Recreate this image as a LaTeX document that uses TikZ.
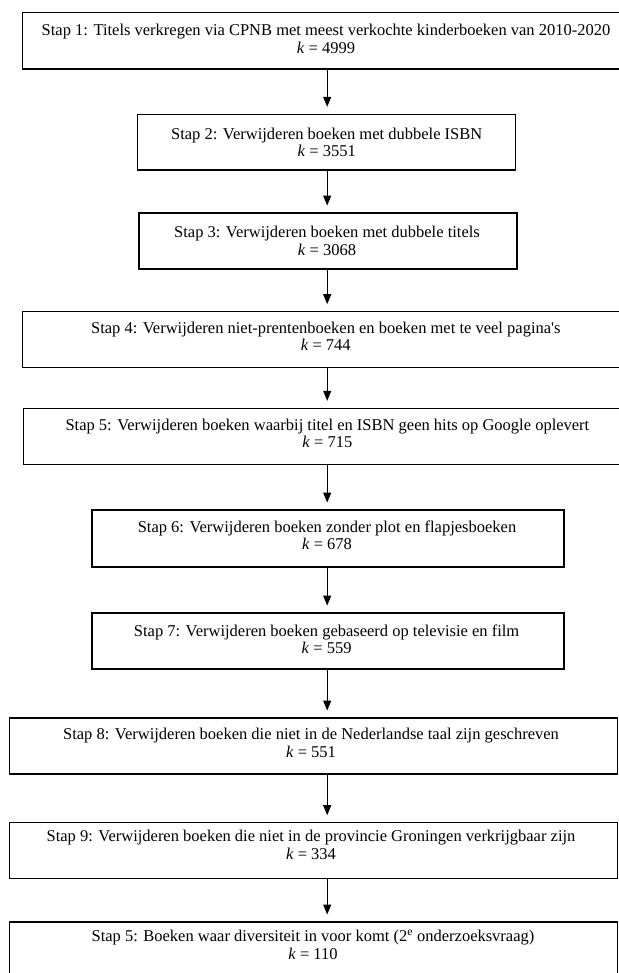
\documentclass[tikz,border=0pt]{standalone}
\usepackage{fontspec}
\setmainfont{Liberation Serif}
\usetikzlibrary{arrows.meta}

\tikzset{
  stepbox/.style={draw=black, line width=1.15bp, rectangle, inner sep=0pt, outer sep=0pt},
  steptext/.style={inner sep=0pt, anchor=base, font=\fontsize{16.5bp}{18bp}\selectfont},
  flow/.style={line width=1bp, -{Triangle[length=10bp,width=8bp]}, shorten >=7.5bp}
}

\begin{document}
\begin{tikzpicture}[x=1bp, y=-1bp]
  \useasboundingbox (0,0) rectangle (619,973);
  \clip (0,0) rectangle (619,973);
  \fill[white] (0,0) rectangle (619,973);

  % vertical line that all connectors follow
  \coordinate (ax) at (327.2,0);

  % step boxes
  \node[stepbox, minimum width=617.4bp, minimum height=56.3bp] (b1)  at (331.3, 40.85) {};
  \node[stepbox, minimum width=378.4bp, minimum height=55.7bp] (b2)  at (326.5,142.15) {};
  \node[stepbox, minimum width=378bp,   minimum height=56bp]   (b3)  at (328.0,241.0) {};
  \node[stepbox, minimum width=617.5bp, minimum height=56bp]   (b4)  at (331.25,339.7) {};
  \node[stepbox, minimum width=616.3bp, minimum height=56bp]   (b5)  at (331.85,436.3) {};
  \node[stepbox, minimum width=472bp,   minimum height=57bp]   (b6)  at (328.0,538.5) {};
  \node[stepbox, minimum width=472bp,   minimum height=56bp]   (b7)  at (328.0,641.0) {};
  \node[stepbox, minimum width=607.9bp, minimum height=56bp]   (b8)  at (313.85,746.0) {};
  \node[stepbox, minimum width=607.9bp, minimum height=55.6bp] (b9)  at (313.85,850.5) {};
  \node[stepbox, minimum width=607.9bp, minimum height=68bp]   (b10) at (313.85,956.0) {};

  % texts: first line and count line of each step
  \node[steptext] (t1a)  at (326.0, 35.5) {Stap 1: Titels verkregen via CPNB met meest verkochte kinderboeken van 2010-2020};
  \node[steptext] (t1b)  at (326.0, 53.0) {\textit{k} = 4999};
  \node[steptext] (t2a)  at (326.7,139.2) {Stap 2: Verwijderen boeken met dubbele ISBN};
  \node[steptext] (t2b)  at (326.7,156.7) {\textit{k} = 3551};
  \node[steptext] (t3a)  at (327.0,237.5) {Stap 3: Verwijderen boeken met dubbele titels};
  \node[steptext] (t3b)  at (327.0,255.0) {\textit{k} = 3068};
  \node[steptext] (t4a)  at (325.8,333.0) {Stap 4: Verwijderen niet-prentenboeken en boeken met te veel pagina\textquotesingle s};
  \node[steptext] (t4b)  at (325.8,350.5) {\textit{k} = 744};
  \node[steptext] (t5a)  at (327.4,430.0) {Stap 5: Verwijderen boeken waarbij titel en ISBN geen hits op Google oplevert};
  \node[steptext] (t5b)  at (327.4,447.5) {\textit{k} = 715};
  \node[steptext] (t6a)  at (327.0,532.0) {Stap 6: Verwijderen boeken zonder plot en flapjesboeken};
  \node[steptext] (t6b)  at (327.0,549.5) {\textit{k} = 678};
  \node[steptext] (t7a)  at (326.6,636.0) {Stap 7: Verwijderen boeken gebaseerd op televisie en film};
  \node[steptext] (t7b)  at (326.6,653.5) {\textit{k} = 559};
  \node[steptext] (t8a)  at (311.0,739.5) {Stap 8: Verwijderen boeken die niet in de Nederlandse taal zijn geschreven};
  \node[steptext] (t8b)  at (311.0,757.0) {\textit{k} = 551};
  \node[steptext] (t9a)  at (311.0,841.7) {Stap 9: Verwijderen boeken die niet in de provincie Groningen verkrijgbaar zijn};
  \node[steptext] (t9b)  at (311.0,859.2) {\textit{k} = 334};
  \node[steptext] (t10a) at (313.0,941.5) {Stap 5: Boeken waar diversiteit in voor komt (2\textsuperscript{e} onderzoeksvraag)};
  \node[steptext] (t10b) at (313.0,959.0) {\textit{k} = 110};

  % connectors
  \draw[flow] (b1.south -| ax) -- (b2.north -| ax);
  \draw[flow] (b2.south -| ax) -- (b3.north -| ax);
  \draw[flow] (b3.south -| ax) -- (b4.north -| ax);
  \draw[flow] (b4.south -| ax) -- (b5.north -| ax);
  \draw[flow] (b5.south -| ax) -- (b6.north -| ax);
  \draw[flow] (b6.south -| ax) -- (b7.north -| ax);
  \draw[flow] (b7.south -| ax) -- (b8.north -| ax);
  \draw[flow] (b8.south -| ax) -- (b9.north -| ax);
  \draw[flow] (b9.south -| ax) -- (b10.north -| ax);
\end{tikzpicture}
\end{document}
